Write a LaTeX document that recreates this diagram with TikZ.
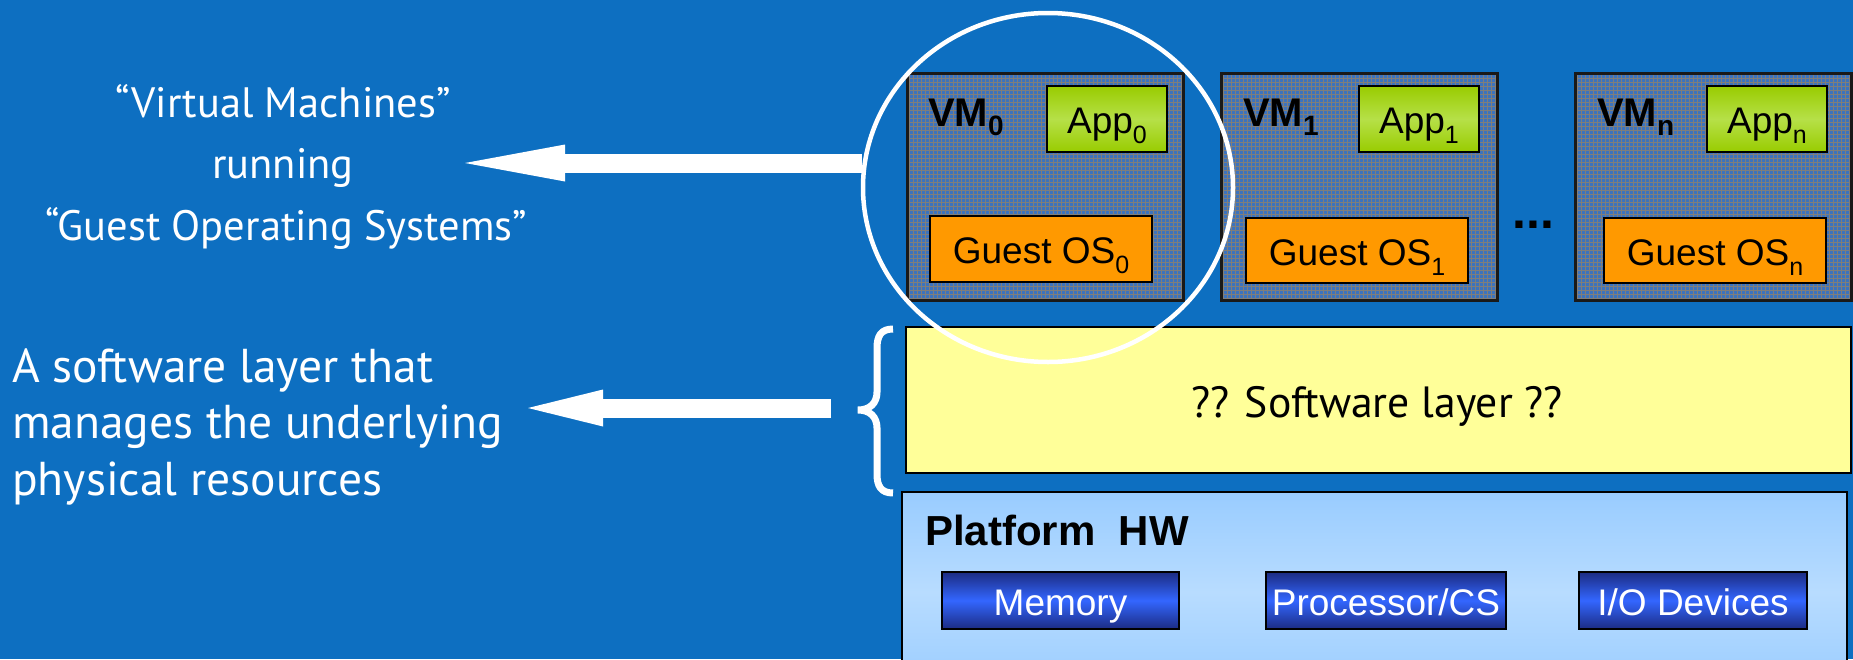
\documentclass[tikz,border=0pt]{standalone}
\usepackage{fontspec}
\setmainfont{Liberation Sans}
\newfontfamily\clearfont{PT Sans}
\usetikzlibrary{arrows.meta,shapes.geometric}

\definecolor{slidebg}{RGB}{13,111,193}
\definecolor{vmbase}{RGB}{60,115,190}
\definecolor{vmline}{RGB}{128,126,122}
\definecolor{appgreen}{RGB}{153,204,0}
\definecolor{applight}{RGB}{182,224,72}
\definecolor{osorange}{RGB}{255,153,0}
\definecolor{swyellow}{RGB}{255,255,153}
\definecolor{hwblue}{RGB}{153,204,255}
\definecolor{hwlight}{RGB}{184,220,255}
\definecolor{devdark}{RGB}{28,44,130}
\definecolor{devbright}{RGB}{51,102,255}

% font size in pixel-sized points
\newcommand{\pxfont}[1]{\fontsize{#1}{#1}\selectfont}
% lowered index: #1 text, #2 size, #3 drop
\newcommand{\lowidx}[3]{\raisebox{-#3pt}{\pxfont{#2}#1}}

\begin{document}
\begin{tikzpicture}[x=1pt,y=-1pt,
  box/.style={rectangle, inner sep=0pt, outer sep=0pt, anchor=north west},
  vmbox/.style={box, fill=vmbase, draw=black!90, line width=3pt,
    minimum width=276pt, minimum height=227pt,
    path picture={\draw[vmline, line width=0.7pt]
      (path picture bounding box.south west) grid[step=4pt]
      (path picture bounding box.north east);}},
  appbox/.style={box, draw=black, line width=2.5pt, top color=appgreen,
    bottom color=appgreen, middle color=applight,
    minimum width=120pt, minimum height=66pt},
  osbox/.style={box, draw=black, line width=2.5pt, fill=osorange,
    minimum width=222pt, minimum height=65pt},
  swbox/.style={box, draw=black, line width=2.5pt, fill=swyellow,
    minimum width=945pt, minimum height=146pt},
  hwbox/.style={box, draw=black, line width=2.5pt, top color=hwblue,
    bottom color=hwblue, middle color=hwlight,
    minimum width=945pt, minimum height=200pt},
  devbox/.style={box, draw=black, line width=2.5pt, top color=devdark,
    bottom color=devdark, middle color=devbright, minimum height=57pt},
  vmlabel/.style={anchor=base west, inner sep=0pt, font=\pxfont{40}\bfseries},
  boxtext/.style={anchor=base, inner sep=0pt, font=\pxfont{37}},
  devtext/.style={anchor=base, inner sep=0pt, font=\pxfont{37}, text=white},
  lefttext/.style={inner sep=0pt, text=white},
  bigarrow/.style={white, line width=19pt},
]
\clip (0,0) rectangle (1853,659);
\fill[slidebg] (0,0) rectangle (1853,659);

% virtual machines
\node[vmbox] (vm0) at (907,73) {};
\node[vmbox] (vm1) at (1221,73) {};
\node[vmbox] (vmn) at (1575,73) {};

\node[vmlabel] (vm0l) at (928,126) {VM\lowidx{0}{28}{9}};
\node[vmlabel] (vm1l) at (1243,126) {VM\lowidx{1}{28}{9}};
\node[vmlabel] (vmnl) at (1597,126) {VM\lowidx{n}{28}{9}};

\node[appbox] (app0) at (1047,86) {};
\node[appbox] (app1) at (1359,86) {};
\node[appbox] (appn) at (1707,86) {};
\node[boxtext] (app0t) at (1107,133) {App\lowidx{0}{25}{10}};
\node[boxtext] (app1t) at (1419,133) {App\lowidx{1}{25}{10}};
\node[boxtext] (appnt) at (1767,133) {App\lowidx{n}{25}{10}};

\node[osbox, minimum height=66pt] (os0) at (930,216) {};
\node[osbox] (os1) at (1246,218) {};
\node[osbox] (osn) at (1604,218) {};
\node[boxtext] (os0t) at (1041,263) {Guest OS\lowidx{0}{25}{10}};
\node[boxtext] (os1t) at (1357,265) {Guest OS\lowidx{1}{25}{10}};
\node[boxtext] (osnt) at (1715,265) {Guest OS\lowidx{n}{25}{10}};

\node[anchor=base west, inner sep=0pt, font=\pxfont{50}\bfseries] (dots) at (1512,228) {...};

% software layer and hardware
\node[swbox] (swl) at (906,327) {};
\node[anchor=base, inner sep=0pt, font=\clearfont\pxfont{43.7}] (swlt) at (1377,417) {?? Software layer ??};

\node[hwbox] (hw) at (902,492) {};
\node[anchor=base west, inner sep=0pt, font=\pxfont{42}\bfseries] (hwt) at (925,545) {Platform\ \ HW};

\node[devbox, minimum width=237pt] (mem) at (942,572) {};
\node[devbox, minimum width=240pt] (cpu) at (1266,572) {};
\node[devbox, minimum width=228pt] (io) at (1579,572) {};
\node[devtext] (memt) at (1060.5,615) {Memory};
\node[devtext] (cput) at (1386,615) {Processor/CS};
\node[devtext] (iot) at (1693,615) {I/O Devices};

% brace next to the software layer
\draw[white, line width=7pt]
  (893,329) .. controls (881,329) and (877,336) .. (877,348) -- (877,392)
  .. controls (877,403) and (870,410) .. (858,410)
  .. controls (870,410) and (877,417) .. (877,428) -- (877,474)
  .. controls (877,486) and (881,493) .. (893,493);

% explanations on the left
\begin{scope}[lefttext/.append style={font=\clearfont\pxfont{42.5}, anchor=base}]
\node[lefttext] (vmt1) at (283,117) {“Virtual Machines”};
\node[lefttext] (vmt2) at (283,178) {running};
\node[lefttext] (vmt3) at (286,240) {“Guest Operating Systems”};
\end{scope}
\begin{scope}[lefttext/.append style={font=\clearfont\pxfont{47.5}, anchor=base west}]
\node[lefttext] (swt1) at (12,382) {A software layer that};
\node[lefttext] (swt2) at (12,438) {manages the underlying};
\node[lefttext] (swt3) at (12,495) {physical resources};
\end{scope}

% arrows
\coordinate (a1s) at (862,163);
\coordinate (a1e) at (465,163);
\coordinate (a2s) at (831,408);
\coordinate (a2e) at (528,408);
\draw[bigarrow, -{Triangle[length=100pt, width=37pt, line width=0pt]}] (a1s) -- (a1e);
\draw[bigarrow, -{Triangle[length=75pt, width=37pt, line width=0pt]}] (a2s) -- (a2e);

% ring around the first virtual machine
\node[ellipse, draw=white, line width=4.5pt, inner sep=0pt,
  minimum width=370pt, minimum height=349pt] (vmring) at (1048,187.5) {};
\end{tikzpicture}
\end{document}
